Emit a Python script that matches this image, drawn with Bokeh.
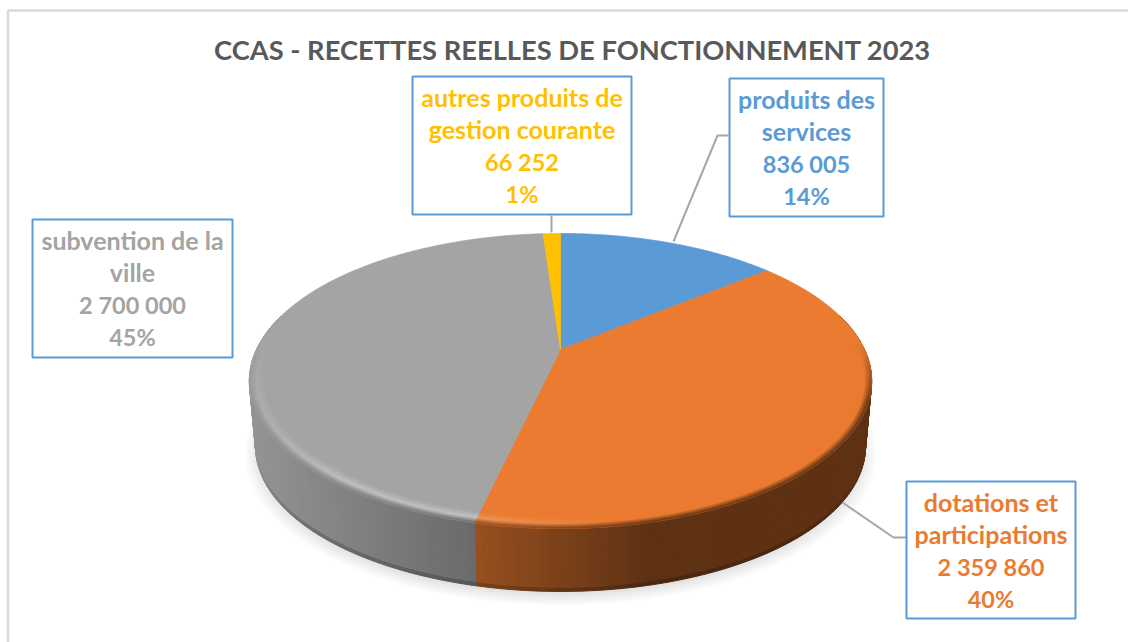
import numpy as np
from bokeh.plotting import figure
from bokeh.models import Range1d
from bokeh.core.properties import value
from bokeh.embed import file_html
from bokeh.resources import INLINE

# ---- data
title = "CCAS - RECETTES REELLES DE FONCTIONNEMENT 2023"
names = [["produits des", "services"], ["dotations et", "participations"],
         ["subvention de la", "ville"], ["autres produits de", "gestion courante"]]
values = [836005, 2359860, 2700000, 66252]
colors = ["#5A9AD5", "#EA7B30", "#A4A4A4", "#FFC000"]

# ---- layout
boxes = [(729, 78, 883, 216), (906, 481, 1075, 618), (32, 219, 232, 357), (412, 76, 631, 214)]
first_line = [98, 501, 239, 96]
line_step = 32.6
leaders = [([673, 717, 728], [241, 135, 135]), ([842, 893, 906], [502, 537, 537]),
           ([], []), ([551, 551], [232, 215])]
FONT = "Lato"
TITLE_SIZE = "27.3px"
LABEL_SIZE = "25px"
NUMBER_SIZE = "23.5px"

# projection of the (tilted) disc
AX, AY = 560.0, 349.0
R, H, K = 304.0, 140.8, 0.2135
DROP, BS = 66.5, 0.98

def top(th, t=1.0):
    s, c = np.sin(th) * t, np.cos(th) * t
    d = 1 + K * c
    return AX + R * s / d, AY - H * c / d

def bottom(th, t=1.0, f=1.0):
    x, y = top(th, t)
    return AX + (x - AX) * (1 + (BS - 1) * f), AY + DROP * f + (y - AY) * (1 + (BS - 1) * f)

def rgb(c):
    return np.array([int(c[i:i + 2], 16) for i in (1, 3, 5)], float)

def hexa(a):
    a = np.clip(np.round(a), 0, 255).astype(int)
    return "#%02x%02x%02x" % tuple(a)

def shade(x):
    return np.interp(x, [250, 478, 650], [0.90, 0.64, 0.40])

total = float(sum(values))
edges = np.concatenate([[0], np.cumsum(values)]) / total * 2 * np.pi

p = figure(width=1128, height=642, x_range=Range1d(0, 1128), y_range=Range1d(642, 0),
           output_backend="svg", toolbar_location=None, min_border=0)
p.axis.visible = False
p.grid.visible = False
p.outline_line_color = None
p.background_fill_color = "white"
p.border_fill_color = "white"

# frame
p.line([7.5, 7.5, 1128], [642, 10, 10], line_color="#D9D9D9", line_width=2.5)

# soft shadow
all_th = np.linspace(0, 2 * np.pi, 241)
for t in np.linspace(1.035, 0.97, 12):
    xs, ys = bottom(all_th, t)
    p.patch(xs, ys + 6, fill_color="black", fill_alpha=0.013, line_color=None)

# side wall
qx, qy, qc = [], [], []
STEP = np.radians(1.0)
for i, c in enumerate(colors):
    base = rgb(c)
    a0, a1 = edges[i], edges[i + 1]
    n = max(1, int(np.ceil((a1 - a0) / STEP)))
    th = np.linspace(a0, a1, n + 1)
    for a, b in zip(th[:-1], th[1:]):
        cm = np.cos((a + b) / 2)
        if cm > 0.25:
            continue
        xm = top((a + b) / 2)[0]
        f = shade(xm)
        edge_dark = 1.0 - 0.2 * np.clip((-0.3 - cm) / 0.4, 0, 1)
        for f0, f1, dark in ((0.0, 0.95, 1.0), (0.95, 1.0, edge_dark)):
            xa, ya = bottom(a, 1.0, f0)
            xb, yb = bottom(b, 1.0, f0)
            xc, yc = bottom(b, 1.0, f1)
            xd, yd = bottom(a, 1.0, f1)
            qx.append([xa, xb, xc, xd])
            qy.append([ya, yb, yc, yd])
            qc.append(hexa(base * f * dark))
p.patches(qx, qy, fill_color=qc, line_color=qc, line_width=1)

# top face
fx, fy = [], []
for i in range(len(values)):
    th = np.linspace(edges[i], edges[i + 1], max(3, int((edges[i + 1] - edges[i]) / STEP)))
    x, y = top(th)
    fx.append(np.concatenate([[AX], x]).tolist())
    fy.append(np.concatenate([[AY], y]).tolist())
p.patches(fx, fy, fill_color=colors, line_color=colors, line_width=0.7)

# bevel on the rim of the front half
ts = np.linspace(0.95, 1.0, 9)
bx, by, bc = [], [], []
for i, c in enumerate(colors):
    base = rgb(c)
    a0, a1 = edges[i], edges[i + 1]
    n = max(1, int(np.ceil((a1 - a0) / STEP)))
    th = np.linspace(a0, a1, n + 1)
    for a, b in zip(th[:-1], th[1:]):
        m = (a + b) / 2
        w = np.clip((0.05 - np.cos(m)) / 0.4, 0, 1)
        if w <= 0:
            continue
        xm = top(m)[0]
        side = base * shade(xm)
        glow = np.interp(xm, [250, 330, 480, 620, 680], [0.1, 0.3, 0.34, 0.0, 0.0])
        hi = base + (255 - base) * glow * (1.0 if i != 1 else 0.55)
        for t0, t1 in zip(ts[:-1], ts[1:]):
            tm = (t0 + t1) / 2
            if tm < 0.978:
                col = base + (hi - base) * (tm - 0.95) / 0.028
            else:
                col = hi + (side - hi) * (tm - 0.978) / 0.022
            col = base + (col - base) * w
            xa, ya = top(a, t0)
            xb, yb = top(b, t0)
            xc, yc = top(b, t1)
            xd, yd = top(a, t1)
            bx.append([xa, xb, xc, xd])
            by.append([ya, yb, yc, yd])
            bc.append(hexa(col))
p.patches(bx, by, fill_color=bc, line_color=bc, line_width=0.6)

# leader lines
for lx, ly in leaders:
    if lx:
        p.line(lx, ly, line_color="#A6A6A6", line_width=2)

# labels
for i, c in enumerate(colors):
    x0, y0, x1, y1 = boxes[i]
    p.quad(left=x0, right=x1, top=y0, bottom=y1, fill_color="white",
           line_color="#5B9BD5", line_width=2)
    lines = names[i] + [f"{values[i]:,}".replace(",", " "), f"{round(values[i] / total * 100)}%"]
    cx = (x0 + x1) / 2
    ly = [first_line[i] + k * line_step for k in range(4)]
    for size, rows in ((LABEL_SIZE, (0, 1)), (NUMBER_SIZE, (2, 3))):
        p.text([cx] * 2, [ly[r] for r in rows], text=[lines[r] for r in rows],
               text_color=c, text_font=value(FONT), text_font_style="bold", text_font_size=size,
               text_align="center", text_baseline="middle")

p.text([572], [49], text=[title], text_color="#595959", text_font=value(FONT),
       text_font_style="bold", text_font_size=TITLE_SIZE, text_align="center", text_baseline="middle")

open("out.html", "w").write(file_html(p, INLINE))
